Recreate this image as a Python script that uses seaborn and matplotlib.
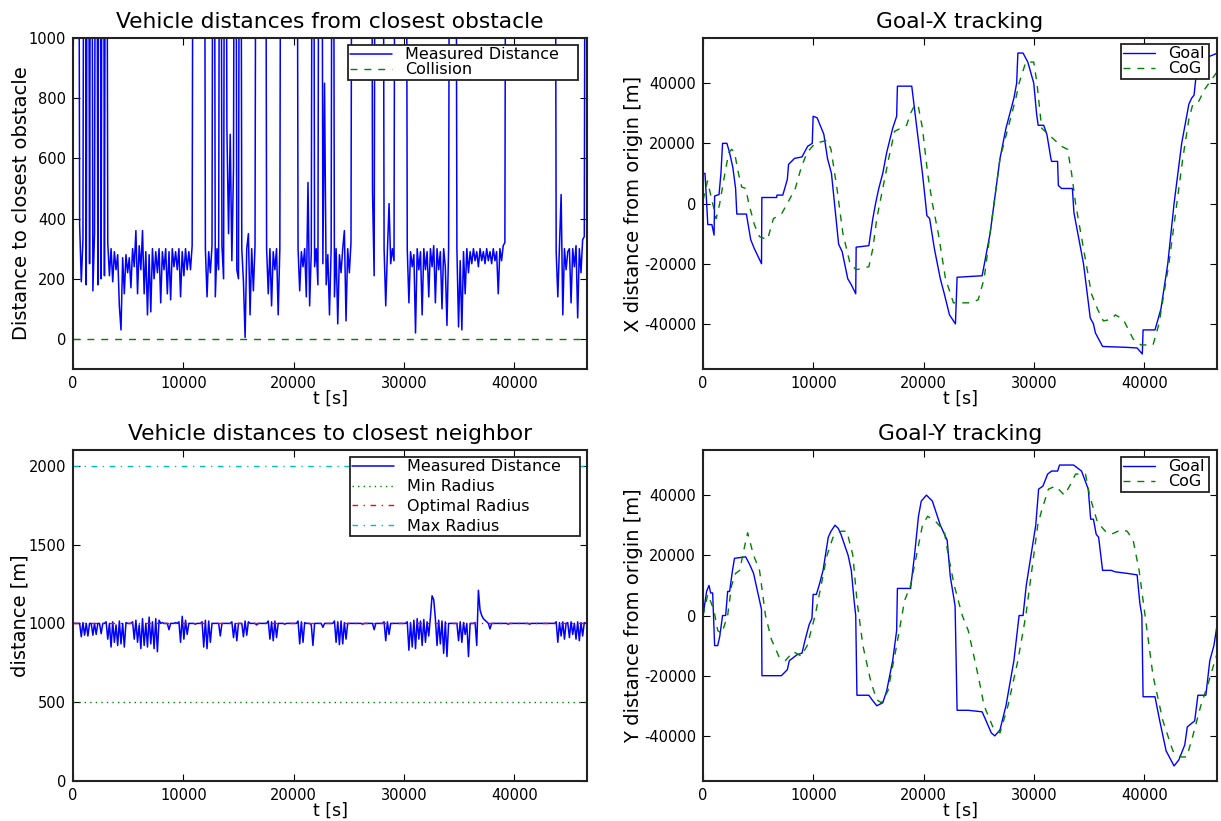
import numpy as np
import matplotlib
matplotlib.use("Agg")
import matplotlib.pyplot as plt
import seaborn as sns

# distance logs, one sample every 150 s
t_grid = np.arange(0, 46651, 150)

# distance to closest obstacle (3000 = nothing in range, off the chart)
obstacle_dist = [
    3000, 3000, 3000, 3000, 380, 190, 330, 3000, 180, 3000,
    250, 3000, 160, 350, 3000, 180, 3000, 200, 3000, 210,
    3000, 320, 210, 300, 190, 290, 230, 280, 110, 30,
    270, 150, 280, 220, 270, 170, 300, 240, 360, 150,
    310, 230, 360, 150, 290, 80, 280, 90, 300, 200,
    290, 220, 300, 120, 290, 230, 300, 150, 290, 130,
    300, 240, 290, 230, 300, 140, 290, 210, 300, 230,
    290, 230, 310, 3000, 3000, 3000, 3000, 3000, 3000, 3000,
    300, 140, 290, 220, 310, 3000, 140, 300, 230, 3000,
    310, 200, 3000, 700, 350, 680, 260, 570, 3000, 230,
    200, 3000, 300, 190, 5, 300, 350, 80, 300, 160,
    310, 3000, 3000, 3000, 3000, 3000, 3000, 300, 150, 300,
    110, 290, 230, 300, 80, 300, 3000, 3000, 3000, 3000,
    3000, 3000, 3000, 3000, 3000, 3000, 300, 160, 290, 240,
    300, 140, 520, 110, 290, 3000, 240, 300, 180, 3000,
    3000, 250, 850, 180, 280, 80, 300, 3000, 140, 300,
    50, 280, 220, 300, 360, 60, 300, 220, 320, 3000,
    3000, 3000, 3000, 3000, 3000, 3000, 3000, 3000, 3000, 3000,
    3000, 490, 210, 3000, 3000, 3000, 3000, 3000, 300, 110,
    290, 450, 250, 300, 260, 3000, 3000, 3000, 3000, 3000,
    3000, 3000, 300, 120, 290, 240, 280, 20, 300, 230,
    290, 80, 300, 230, 290, 140, 300, 240, 310, 120,
    300, 230, 290, 100, 300, 240, 45, 300, 3000, 3000,
    3000, 3000, 300, 40, 260, 30, 290, 150, 300, 220,
    290, 250, 300, 260, 290, 240, 300, 260, 290, 250,
    300, 260, 290, 250, 300, 260, 290, 150, 300, 260,
    310, 320, 3000, 3000, 3000, 3000, 3000, 3000, 3000, 3000,
    3000, 3000, 3000, 3000, 3000, 3000, 3000, 3000, 3000, 3000,
    3000, 3000, 3000, 3000, 3000, 3000, 3000, 3000, 3000, 3000,
    3000, 3000, 290, 140, 310, 480, 80, 300, 230, 290,
    300, 120, 300, 240, 310, 70, 300, 220, 330, 340, 3000, 3000,
]

# distance to closest neighbor
neighbor_dist = [
    1000, 1000, 1000, 1000, 1000, 915, 1005, 925, 1000, 920,
    1000, 1000, 925, 1000, 930, 1000, 1000, 935, 1000, 1000,
    1010, 900, 1000, 850, 1010, 880, 990, 860, 1015, 870,
    1000, 850, 1005, 1000, 1000, 1000, 1010, 900, 1020, 880,
    990, 840, 1030, 860, 1000, 850, 1040, 870, 1010, 840,
    1030, 820, 1020, 1000, 1005, 1000, 1000, 1000, 960, 1000,
    1000, 1000, 1005, 1000, 1010, 880, 1045, 900, 1020, 930,
    1000, 1000, 1000, 1000, 995, 1000, 1000, 1000, 1010, 850,
    1020, 840, 1015, 880, 1000, 1000, 1000, 1000, 1000, 920,
    1000, 1000, 1000, 1000, 1000, 1000, 1010, 910, 1000, 890,
    1000, 1000, 1000, 915, 1015, 925, 1010, 1000, 1000, 1000,
    1000, 990, 1000, 1000, 1000, 1000, 1000, 1000, 1015, 900,
    1010, 890, 1015, 910, 1000, 1000, 1000, 1000, 995, 1000,
    1000, 1000, 1000, 1000, 1000, 1000, 1015, 870, 1010, 880,
    1005, 1000, 1000, 1000, 990, 860, 1000, 1000, 1000, 1000,
    1000, 975, 1000, 1000, 1000, 1000, 1000, 1000, 1015, 880,
    1010, 865, 1015, 870, 1005, 900, 1000, 1000, 1000, 1000,
    1000, 1000, 1000, 1000, 1000, 995, 1000, 1000, 1000, 1000,
    1000, 1000, 960, 1000, 1000, 1000, 1000, 1000, 1010, 890,
    1010, 930, 1000, 1000, 1000, 1000, 1000, 1000, 1000, 1000,
    1000, 1000, 1010, 830, 1005, 850, 1020, 840, 1030, 900,
    1015, 860, 1025, 880, 1010, 920, 1040, 1175, 1150, 1030,
    860, 1020, 870, 1015, 810, 1010, 790, 1000, 1000, 1000,
    1000, 1000, 1000, 890, 1010, 880, 1005, 930, 1000, 790,
    1000, 1000, 1000, 1005, 860, 1210, 1085, 1050, 1030, 1020,
    1010, 1000, 965, 1000, 1000, 1000, 1000, 1000, 1000, 1000,
    1000, 1000, 1000, 995, 1000, 1000, 1000, 1000, 1000, 1000,
    1000, 1000, 1000, 1000, 1000, 1000, 995, 1000, 1000, 1000,
    1000, 1000, 1000, 1000, 1000, 1000, 1000, 1000, 1000, 1000,
    1000, 1000, 1010, 880, 1005, 920, 1010, 900, 1000, 1005,
    910, 1010, 930, 1000, 900, 1010, 890, 1005, 920, 1005, 1000, 1000,
]

collision_level = 0
min_radius = 500
optimal_radius = 1000
max_radius = 2000

# (t [s], position [m])
goal_x_pts = [
    (0, 10000), (180, 10000), (430, -7000), (800, -7000), (1000, -10500),
    (1050, 2500), (1450, 3000), (1620, 10000), (1770, 20000), (2160, 20000),
    (2400, 17000), (2700, 12000), (2950, 5000), (3060, -3500), (3930, -3500),
    (4320, -12000), (4650, -15000), (5300, -20000), (5330, 2000), (6670, 2000),
    (6700, 2800), (7230, 2800), (7640, 8000), (7750, 13000), (8290, 15000),
    (8970, 15500), (9480, 19000), (9900, 20000), (9980, 29000), (10340, 28500),
    (10950, 23000), (11280, 15000), (11640, 10000), (12290, -13500), (12610, -16000),
    (13120, -25000), (13440, -27000), (13840, -30000), (13880, -14500), (15030, -14000),
    (15390, -5000), (15640, 0), (15930, 5000), (16290, 10000), (16650, 17000),
    (17190, 25000), (17550, 29000), (17620, 39000), (18920, 39000), (19350, 26000),
    (19890, 10000), (20180, 0), (20290, -4000), (20540, -5000), (20970, -15000),
    (21510, -25000), (21870, -30000), (22340, -37000), (22880, -40000), (23030, -24500),
    (25300, -24000), (26020, -10000), (26380, 0), (26920, 15000), (27460, 25000),
    (28180, 35000), (28430, 40000), (28540, 50000), (29010, 50000), (29440, 47000),
    (29980, 40000), (30230, 30000), (30380, 26000), (30880, 26000), (31170, 23000),
    (31530, 15000), (31600, 14000), (32140, 14000), (32210, 6000), (32500, 5000),
    (33480, 5000), (33620, -3000), (34490, -20000), (35100, -38000), (35390, -40000),
    (35570, -43000), (36220, -47500), (38450, -47800), (39350, -48000), (39820, -50000),
    (39890, -42000), (40970, -42000), (41510, -35000), (42130, -20000), (42700, 0),
    (43390, 20000), (44040, 33000), (44290, 35000), (44510, 36000), (44740, 44000),
    (45300, 48000), (46650, 50000),
]

cog_x_pts = [
    (0, 1100), (400, 7500), (1190, -5000), (1510, 0), (1980, 10000),
    (2340, 17000), (2600, 18000), (2850, 17000), (3210, 10000), (3500, 5500),
    (3860, 5000), (4150, 0), (4650, -7000), (5120, -11000), (5840, -12000),
    (6380, -5000), (7100, -3500), (7640, 0), (8360, 5000), (8900, 12000),
    (9440, 17000), (10160, 20000), (11240, 21000), (11600, 18000), (12140, 5000),
    (12680, -10000), (13330, -20000), (13870, -22000), (15030, -21000), (15390, -15000),
    (15750, -5000), (16290, 5000), (16830, 15000), (17370, 24000), (18450, 26000),
    (18810, 30000), (19240, 33000), (19530, 32000), (19890, 25000), (20360, 10000),
    (20790, 0), (21330, -10000), (21980, -25000), (22700, -33000), (24220, -33000),
    (24940, -32000), (25480, -25000), (26020, -10000), (26380, 0), (26920, 15000),
    (27640, 25000), (28360, 35000), (28650, 40000), (29260, 47000), (29980, 47000),
    (30270, 40000), (30700, 25000), (31600, 22000), (32500, 19000), (33050, 18000),
    (33410, 10000), (33770, 0), (34490, -15000), (35210, -30000), (35750, -35000),
    (36290, -39000), (37010, -38500), (37370, -37000), (38090, -38500), (38990, -45000),
    (39710, -47000), (40790, -47000), (41330, -40000), (42230, -20000), (42950, 0),
    (43490, 15000), (44040, 28000), (44400, 33000), (44940, 34000), (45480, 38000),
    (46650, 44000),
]

goal_y_pts = [
    (0, 0), (320, 8000), (540, 10000), (690, 7500), (870, 7500),
    (1050, -10000), (1330, -10000), (1510, -7000), (1770, 0), (2050, 0),
    (2230, 8000), (2410, 8000), (2670, 15000), (2850, 19000), (3860, 19500),
    (4220, 17000), (4580, 14000), (4940, 8000), (5300, 2000), (5340, -20000),
    (7100, -20000), (7640, -18000), (7820, -15000), (8180, -14000), (8540, -13000),
    (8970, -12500), (9260, -8000), (9620, -3000), (9870, -1000), (9980, 7000),
    (10270, 7000), (10520, 10000), (10880, 15000), (11350, 26000), (11600, 28000),
    (11960, 30000), (12250, 29000), (12500, 27000), (13150, 20000), (13440, 15000),
    (13690, 5000), (13840, 0), (13950, -26500), (15030, -26500), (15320, -28000),
    (15750, -30000), (16290, -29000), (16650, -25000), (17190, -15000), (17550, -5000),
    (17620, 9000), (18810, 9000), (19170, 20000), (19530, 33000), (19780, 38000),
    (20250, 40000), (20790, 38000), (21510, 30000), (22130, 25000), (22410, 13000),
    (22770, 5000), (22850, 3000), (23030, -31500), (24040, -31500), (25300, -32000),
    (25660, -35000), (26130, -39000), (26450, -40000), (26920, -38000), (27460, -30000),
    (28180, -15000), (28650, 0), (29010, 0), (29300, 10000), (29730, 20000),
    (30160, 30000), (30420, 42000), (30810, 43000), (31240, 47000), (31600, 48000),
    (32140, 48000), (32320, 50000), (33590, 50000), (34310, 48000), (34920, 42000),
    (35140, 32000), (35390, 32000), (35640, 27000), (35860, 26000), (36220, 15000),
    (37010, 15000), (37370, 14500), (38450, 14000), (39350, 13500), (39600, 4000),
    (39780, 0), (39890, -27000), (40970, -27000), (41400, -35000), (41980, -45000),
    (42700, -50000), (43130, -48000), (43670, -43000), (43900, -37000), (44570, -35000),
    (44860, -26500), (45580, -26500), (45940, -15000), (46310, -10000), (46650, -2000),
]

cog_y_pts = [
    (0, 0), (430, 7000), (970, 2000), (1330, -5000), (1690, -6000),
    (2230, 0), (2590, 10000), (2950, 14000), (3320, 15000), (3710, 22000),
    (4040, 27500), (4580, 20000), (5120, 15000), (5660, 0), (6200, -8000),
    (6920, -14000), (7460, -15000), (8180, -12000), (8900, -13500), (9440, -10000),
    (10160, 0), (10700, 10000), (11240, 20000), (11780, 26000), (12500, 28000),
    (13040, 28000), (13580, 20000), (13950, 5000), (14490, -10000), (15210, -22000),
    (15750, -28000), (16180, -29000), (16760, -25000), (17550, -10000), (18270, 5000),
    (18810, 10000), (19350, 20000), (19890, 30000), (20360, 33000), (21150, 31000),
    (21870, 28000), (22230, 20000), (22770, 10000), (23500, 0), (24040, -5000),
    (24940, -20000), (25480, -30000), (26380, -38000), (26920, -39000), (27640, -30000),
    (28540, -15000), (29260, 0), (29800, 15000), (30340, 30000), (30700, 35000),
    (31310, 42000), (31960, 43000), (32750, 40000), (33230, 43000), (33770, 47000),
    (34670, 47000), (35030, 40000), (35750, 31000), (36470, 28000), (37010, 27000),
    (37910, 28500), (38450, 28000), (38990, 25000), (39530, 15000), (40070, 0),
    (40790, -20000), (41690, -35000), (42590, -45000), (43310, -47000), (43850, -47000),
    (44400, -40000), (45120, -30000), (45840, -22000), (46650, -12000),
]

t_max = 46600

sns.set_style("ticks", {"xtick.direction": "in", "ytick.direction": "in",
                        "axes.edgecolor": "#222222"})
plt.rcParams["font.family"] = ["DejaVu Sans"]
plt.rcParams["axes.unicode_minus"] = False
plt.rcParams["text.color"] = "black"
plt.rcParams["axes.labelcolor"] = "black"
plt.rcParams["xtick.color"] = "black"
plt.rcParams["ytick.color"] = "black"

BLUE = (0, 0, 1)
GREEN = (0, 0.5, 0)

fig = plt.figure(figsize=(12.21, 8.21), dpi=100)
ax_obs = fig.add_axes([0.0598, 0.5505, 0.421, 0.4032])
ax_gx = fig.add_axes([0.5758, 0.5505, 0.421, 0.4032])
ax_nb = fig.add_axes([0.0598, 0.0487, 0.421, 0.4032])
ax_gy = fig.add_axes([0.5758, 0.0487, 0.421, 0.4032])


def finish(ax, title, ylabel, ypad, box, handlelength, spacing):
    ax.set_xlim(0, t_max)
    ax.set_xticks([0, 10000, 20000, 30000, 40000])
    ax.set_title(title, fontsize=15.7, pad=7)
    ax.set_xlabel("t [s]", fontsize=12.5, labelpad=-1)
    ax.set_ylabel(ylabel, fontsize=14, labelpad=ypad)
    ax.tick_params(which="both", direction="in", top=True, right=True,
                   length=5, width=0.8, labelsize=10.5, pad=5, colors="black")
    for sp in ax.spines.values():
        sp.set_linewidth(1.5)
        sp.set_color("#222222")
    # legend box spans (x0, width) in axes fraction, top edge at box[2]
    x0, w, top = box
    leg = ax.legend(loc="upper left", bbox_to_anchor=(x0, 0, w, top), mode="expand",
                    borderaxespad=0, fontsize=11.5, fancybox=False, framealpha=1,
                    edgecolor="#222222", labelspacing=spacing, borderpad=0.15,
                    handlelength=handlelength, handletextpad=0.8)
    leg.get_frame().set_linewidth(1.3)


# top left: obstacles
sns.lineplot(x=t_grid, y=obstacle_dist, ax=ax_obs, estimator=None, sort=False,
             color=BLUE, lw=1.1, label="Measured Distance")
ax_obs.axhline(collision_level, color=GREEN, lw=1, dashes=(5, 5), label="Collision")
ax_obs.set_ylim(-100, 1000)
ax_obs.set_yticks([0, 200, 400, 600, 800, 1000])
finish(ax_obs, "Vehicle distances from closest obstacle", "Distance to closest obstacle",
       -1.5, (0.535, 0.4475, 0.979), 2.6, 0.0)

# top right: goal x
gx_t, gx_v = zip(*goal_x_pts)
cx_t, cx_v = zip(*cog_x_pts)
sns.lineplot(x=list(gx_t), y=list(gx_v), ax=ax_gx, estimator=None, sort=False,
             color=BLUE, lw=1, label="Goal")
sns.lineplot(x=list(cx_t), y=list(cx_v), ax=ax_gx, estimator=None, sort=False,
             color=GREEN, lw=1, dashes=(5, 5), label="CoG")
ax_gx.set_ylim(-55000, 55000)
ax_gx.set_yticks([-40000, -20000, 0, 20000, 40000])
finish(ax_gx, "Goal-X tracking", "X distance from origin [m]", 0.5,
       (0.813, 0.171, 0.982), 2.0, 0.0)

# bottom left: neighbors
sns.lineplot(x=t_grid, y=neighbor_dist, ax=ax_nb, estimator=None, sort=False,
             color=BLUE, lw=1.1, label="Measured Distance")
ax_nb.axhline(min_radius, color=GREEN, lw=1, dashes=(1, 3), label="Min Radius")
ax_nb.axhline(optimal_radius, color="red", lw=1, dashes=(4, 4, 1, 4), label="Optimal Radius")
ax_nb.axhline(max_radius, color=(0, 0.75, 0.75), lw=1, dashes=(4, 4, 1, 4), label="Max Radius")
ax_nb.set_ylim(0, 2100)
ax_nb.set_yticks([0, 500, 1000, 1500, 2000])
finish(ax_nb, "Vehicle distances to closest neighbor", "distance [m]", -1.0,
       (0.539, 0.4475, 0.979), 2.6, 0.3)

# bottom right: goal y
gy_t, gy_v = zip(*goal_y_pts)
cy_t, cy_v = zip(*cog_y_pts)
sns.lineplot(x=list(gy_t), y=list(gy_v), ax=ax_gy, estimator=None, sort=False,
             color=BLUE, lw=1, label="Goal")
sns.lineplot(x=list(cy_t), y=list(cy_v), ax=ax_gy, estimator=None, sort=False,
             color=GREEN, lw=1, dashes=(5, 5), label="CoG")
ax_gy.set_ylim(-55000, 55000)
ax_gy.set_yticks([-40000, -20000, 0, 20000, 40000])
finish(ax_gy, "Goal-Y tracking", "Y distance from origin [m]", 0.5,
       (0.813, 0.171, 0.979), 2.0, 0.0)

fig.savefig("out.png", dpi=100)
